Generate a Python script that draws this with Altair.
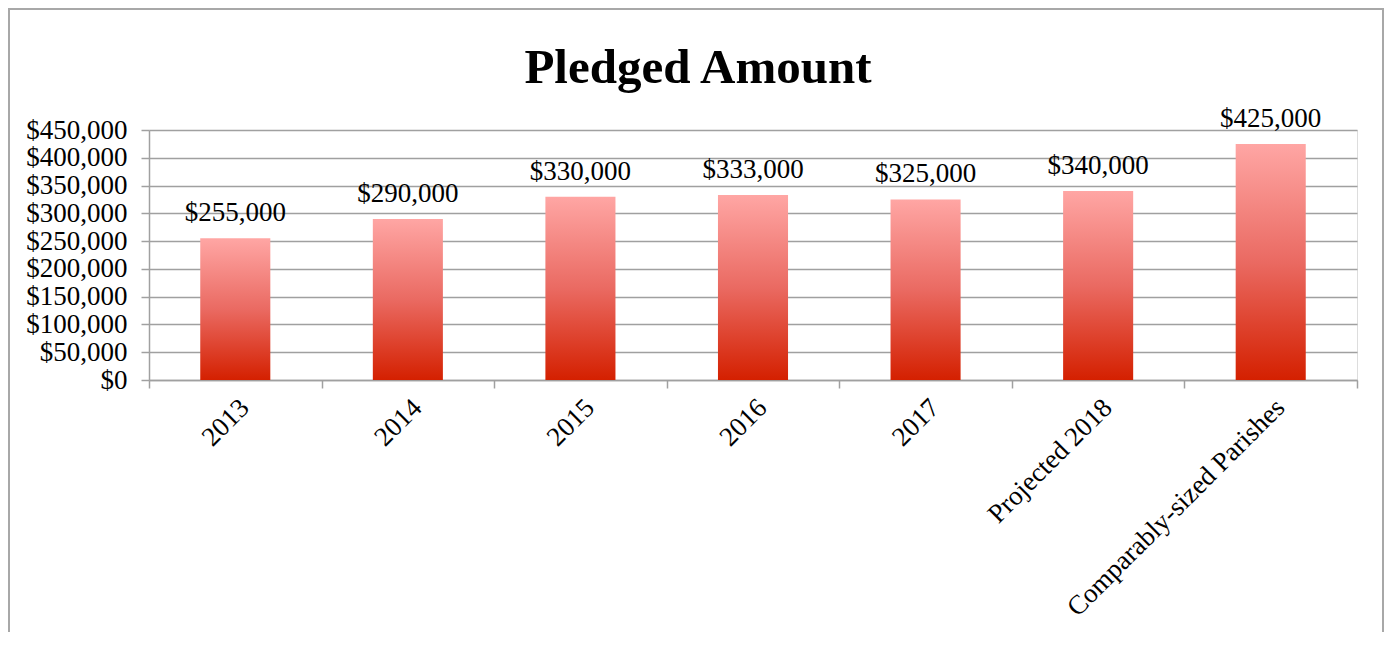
import altair as alt
import pandas as pd

categories = ["2013", "2014", "2015", "2016", "2017", "Projected 2018", "Comparably-sized Parishes"]
amounts = [255000, 290000, 330000, 333000, 325000, 340000, 425000]
y_ticks = [0, 50000, 100000, 150000, 200000, 250000, 300000, 350000, 400000, 450000]
title_text = "Pledged Amount"

df = pd.DataFrame({"category": categories, "amount": amounts})

FONT = "Liberation Serif"
GRID = "#a0a0a0"

gradient = alt.Gradient(
    gradient="linear",
    stops=[
        alt.GradientStop(color="#ffa6a4", offset=0),
        alt.GradientStop(color="#ea6a62", offset=0.5),
        alt.GradientStop(color="#d42000", offset=1),
    ],
    x1=0, x2=0, y1=0, y2=1,
)

x_enc = alt.X(
    "category:N",
    sort=categories,
    scale=alt.Scale(paddingInner=0, paddingOuter=0),
    axis=alt.Axis(
        title=None,
        labelAngle=-45,
        labelAlign="right",
        labelBaseline="top",
        labelFont=FONT,
        labelFontSize=27,
        labelColor="#000000",
        labelPadding=6,
        labelLimit=0,
        labelOverlap=False,
        tickBand="extent",
        tickSize=8,
        tickColor=GRID,
        tickWidth=1.5,
        domainColor=GRID,
        domainWidth=1.5,
        grid=False,
    ),
)

y_enc = alt.Y(
    "amount:Q",
    scale=alt.Scale(domain=[0, 450000], nice=False),
    axis=alt.Axis(
        title=None,
        values=y_ticks,
        format="$,.0f",
        labelFont=FONT,
        labelFontSize=27,
        labelColor="#000000",
        labelPadding=14,
        labelOverlap=False,
        labelFlush=False,
        labelBound=False,
        tickSize=8,
        tickColor=GRID,
        tickWidth=1.5,
        domainColor=GRID,
        domainWidth=1.5,
        grid=True,
        gridColor=GRID,
        gridWidth=1.5,
    ),
)

base = alt.Chart(df).encode(x=x_enc, y=y_enc)

bars = base.mark_bar(
    color=gradient,
    width=alt.RelativeBandSize(0.406),
)

labels = base.mark_text(
    font=FONT,
    fontSize=27,
    color="#000000",
    baseline="alphabetic",
    dy=-17,
).encode(
    text=alt.Text("amount:Q", format="$,.0f"),
)

frame = alt.Chart(alt.Data(values=[{}])).mark_rect(
    fill="transparent", stroke="#a8a8a8", strokeWidth=2
).encode(
    x=alt.value(-140), x2=alt.value(1234), y=alt.value(-121), y2=alt.value(540)
)

title = alt.Chart(alt.Data(values=[{"t": title_text}])).mark_text(
    font=FONT, fontSize=49, fontWeight="bold", color="#000000",
    align="center", baseline="alphabetic",
).encode(
    x=alt.value(549), y=alt.value(-47), text="t:N"
)

chart = alt.layer(frame, bars, labels, title).properties(
    width=1208,
    height=250,
    autosize=alt.AutoSizeParams(type="none"),
    padding={"left": 141, "top": 122, "right": 28, "bottom": 252},
).configure_view(stroke=None).configure(background="white")

chart.save("out.html", embed_options={"renderer": "svg", "actions": False})
